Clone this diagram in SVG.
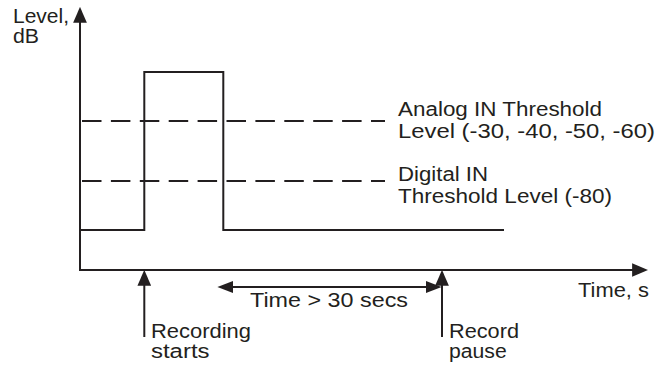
<svg xmlns="http://www.w3.org/2000/svg" width="672" height="365" viewBox="0 0 672 365">
<defs>
<style>
.ln{fill:none;stroke:#231f20;stroke-width:2}
.dash{fill:none;stroke:#231f20;stroke-width:2;stroke-dasharray:19.5 9.4}
.t{font-family:"Liberation Sans",Arial,sans-serif;font-size:19.5px;fill:#231f20}
</style>
<marker id="ah" markerUnits="userSpaceOnUse" markerWidth="16" markerHeight="14" refX="6" refY="6" orient="auto-start-reverse" viewBox="0 0 14 12">
<path d="M0,0 L14,6 L0,12 z" fill="#231f20"/>
</marker>
<marker id="ahs" markerUnits="userSpaceOnUse" markerWidth="16" markerHeight="12" refX="5" refY="5" orient="auto-start-reverse" viewBox="0 0 13 10">
<path d="M0,0 L13,5 L0,10 z" fill="#231f20"/>
</marker>
</defs>
<rect width="672" height="365" fill="#ffffff"/>
<g id="axes">
<line class="ln" x1="80" y1="271" x2="80" y2="16" marker-end="url(#ah)"/>
<line class="ln" x1="79" y1="270" x2="639" y2="270" marker-end="url(#ah)"/>
<text class="t" x="13" y="23" textLength="56" lengthAdjust="spacingAndGlyphs">Level,</text>
<text class="t" x="13" y="43" textLength="26" lengthAdjust="spacingAndGlyphs">dB</text>
<text class="t" x="578" y="297" textLength="71" lengthAdjust="spacingAndGlyphs">Time, s</text>
</g>
<g id="signal">
<polyline class="ln" points="80,230 144.3,230 144.3,72 223.3,72 223.3,230 504,230"/>
</g>
<g id="analog-threshold">
<line class="dash" x1="82" y1="121" x2="385" y2="121"/>
<text class="t" x="398" y="116" textLength="204" lengthAdjust="spacingAndGlyphs">Analog IN Threshold</text>
<text class="t" x="398" y="138" textLength="257" lengthAdjust="spacingAndGlyphs">Level (-30, -40, -50, -60)</text>
</g>
<g id="digital-threshold">
<line class="dash" x1="82" y1="181" x2="385" y2="181"/>
<text class="t" x="398" y="181" textLength="90" lengthAdjust="spacingAndGlyphs">Digital IN</text>
<text class="t" x="398" y="203" textLength="214" lengthAdjust="spacingAndGlyphs">Threshold Level (-80)</text>
</g>
<g id="connectors">
<line class="ln" x1="144.3" y1="337" x2="144.3" y2="279" marker-end="url(#ah)"/>
<line class="ln" x1="442" y1="337" x2="442" y2="279" marker-end="url(#ah)"/>
<line class="ln" x1="227" y1="287" x2="432" y2="287" marker-start="url(#ahs)" marker-end="url(#ahs)"/>
</g>
<g id="recording-starts">
<text class="t" x="151" y="338" textLength="100" lengthAdjust="spacingAndGlyphs">Recording</text>
<text class="t" x="151" y="358" textLength="58.5" lengthAdjust="spacingAndGlyphs">starts</text>
</g>
<g id="record-pause">
<text class="t" x="449" y="338" textLength="70" lengthAdjust="spacingAndGlyphs">Record</text>
<text class="t" x="449" y="358" textLength="57.7" lengthAdjust="spacingAndGlyphs">pause</text>
</g>
<g id="time-label">
<text class="t" x="250" y="307" textLength="158" lengthAdjust="spacingAndGlyphs">Time &gt; 30 secs</text>
</g>
</svg>
